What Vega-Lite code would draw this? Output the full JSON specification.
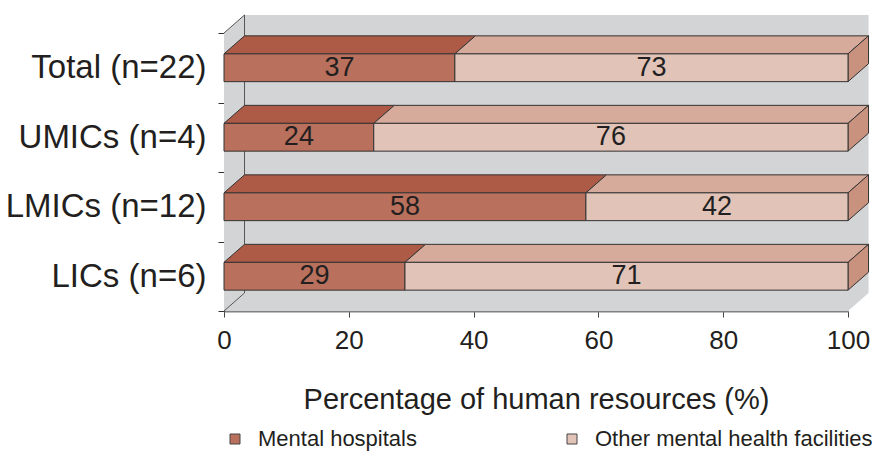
{
  "$schema": "https://vega.github.io/schema/vega-lite/v6.json",
  "width": 624,
  "height": 278,
  "autosize": "none",
  "padding": {"left": 224, "top": 33, "right": 24, "bottom": 142},
  "config": {
    "font": "Liberation Sans",
    "view": {"stroke": null},
    "axisX": {
      "titleFontSize": 29, "titleFontWeight": "normal", "titleColor": "#231f20", "titlePadding": 32,
      "labelFontSize": 26, "labelColor": "#231f20", "labelPadding": 10,
      "tickSize": 6, "tickColor": "#444444", "domainColor": "#808080", "domainWidth": 2,
      "grid": false, "labelFlush": false
    }
  },
  "data": {
    "values": [
      {"group": "Total (n=22)", "facility": "Mental hospitals", "pct": 37, "label": "37"},
      {"group": "Total (n=22)", "facility": "Other mental health facilities", "pct": 63, "label": "73"},
      {"group": "UMICs (n=4)", "facility": "Mental hospitals", "pct": 24, "label": "24"},
      {"group": "UMICs (n=4)", "facility": "Other mental health facilities", "pct": 76, "label": "76"},
      {"group": "LMICs (n=12)", "facility": "Mental hospitals", "pct": 58, "label": "58"},
      {"group": "LMICs (n=12)", "facility": "Other mental health facilities", "pct": 42, "label": "42"},
      {"group": "LICs (n=6)", "facility": "Mental hospitals", "pct": 29, "label": "29"},
      {"group": "LICs (n=6)", "facility": "Other mental health facilities", "pct": 71, "label": "71"}
    ]
  },
  "transform": [
    {"stack": "pct", "groupby": ["group"], "sort": [{"field": "facility", "order": "ascending"}], "as": ["x0", "x1"]},
    {"calculate": "indexof(['Total (n=22)','UMICs (n=4)','LMICs (n=12)','LICs (n=6)'], datum.group)", "as": "idx"},
    {"calculate": "(datum.x0 + datum.x1) / 2", "as": "mid"},
    {"calculate": "[0, 1]", "as": "c"}
  ],
  "layer": [
    {
      "data": {"values": [{"corner": 0}]},
      "transform": [],
      "mark": {"type": "rect", "fill": "#d3d4d6"},
      "encoding": {
        "x": {"datum": 3.29, "type": "quantitative", "scale": {"domain": [0, 100], "nice": false, "zero": false}, "axis": {"title": "Percentage of human resources (%)", "values": [0, 20, 40, 60, 80, 100]}},
        "x2": {"datum": 103.29},
        "y": {"datum": -0.259, "type": "quantitative", "scale": {"domain": [0, 4], "nice": false, "zero": false, "reverse": true}, "axis": null},
        "y2": {"datum": 3.741}
      }
    },
    {
      "data": {"values": [{"corner": 0}, {"corner": 1}]},
      "transform": [
        {"calculate": "datum.corner * 3.29", "as": "wx"},
        {"calculate": "0 - datum.corner * 0.259", "as": "wy0"},
        {"calculate": "4 - datum.corner * 0.259", "as": "wy1"}
      ],
      "mark": {"type": "area", "orient": "vertical", "fill": "#d3d4d6"},
      "encoding": {
        "x": {"field": "wx", "type": "quantitative", "scale": {"domain": [0, 100], "nice": false, "zero": false}, "axis": {"title": "Percentage of human resources (%)", "values": [0, 20, 40, 60, 80, 100]}},
        "y": {"field": "wy0", "type": "quantitative", "scale": {"domain": [0, 4], "nice": false, "zero": false, "reverse": true}, "axis": null},
        "y2": {"field": "wy1"}
      }
    },
    {
      "data": {"values": [{"corner": 0}, {"corner": 1}]},
      "transform": [
        {"calculate": "datum.corner * 3.29", "as": "fx0"},
        {"calculate": "100 + datum.corner * 3.29", "as": "fx1"},
        {"calculate": "4 - datum.corner * 0.259", "as": "fy"}
      ],
      "mark": {"type": "area", "orient": "horizontal", "fill": "#d3d4d6"},
      "encoding": {
        "y": {"field": "fy", "type": "quantitative", "scale": {"domain": [0, 4], "nice": false, "zero": false, "reverse": true}, "axis": null},
        "x": {"field": "fx0", "type": "quantitative", "scale": {"domain": [0, 100], "nice": false, "zero": false}, "axis": {"title": "Percentage of human resources (%)", "values": [0, 20, 40, 60, 80, 100]}},
        "x2": {"field": "fx1"}
      }
    },
    {
      "data": {"values": [
        {"edge": "back-left", "a": 3.29, "b": 3.29, "p": -0.259, "q": 3.741},
        {"edge": "top-left", "a": 0, "b": 3.29, "p": 0, "q": -0.259},
        {"edge": "bottom-left", "a": 0, "b": 3.29, "p": 4, "q": 3.741}
      ]},
      "transform": [],
      "mark": {"type": "rule", "stroke": "#555555", "strokeWidth": 1},
      "encoding": {
        "x": {"field": "a", "type": "quantitative", "scale": {"domain": [0, 100], "nice": false, "zero": false}, "axis": {"title": "Percentage of human resources (%)", "values": [0, 20, 40, 60, 80, 100]}},
        "x2": {"field": "b"},
        "y": {"field": "p", "type": "quantitative", "scale": {"domain": [0, 4], "nice": false, "zero": false, "reverse": true}, "axis": null},
        "y2": {"field": "q"}
      }
    },
    {
      "transform": [
        {"flatten": ["c"]},
        {"calculate": "datum.idx + 0.3 - datum.c * 0.259", "as": "ty"},
        {"calculate": "datum.x0 + datum.c * 3.29", "as": "tx0"},
        {"calculate": "datum.x1 + datum.c * 3.29", "as": "tx1"},
        {"calculate": "datum.group + '|' + datum.facility", "as": "key"}
      ],
      "mark": {"type": "area", "orient": "horizontal", "stroke": "#333333", "strokeWidth": 1},
      "encoding": {
        "y": {"field": "ty", "type": "quantitative", "scale": {"domain": [0, 4], "nice": false, "zero": false, "reverse": true}, "axis": null},
        "x": {"field": "tx0", "type": "quantitative", "scale": {"domain": [0, 100], "nice": false, "zero": false}, "axis": {"title": "Percentage of human resources (%)", "values": [0, 20, 40, 60, 80, 100]}},
        "x2": {"field": "tx1"},
        "detail": {"field": "key"},
        "fill": {"condition": {"test": "datum.facility === 'Mental hospitals'", "value": "#ad5a46"}, "value": "#d7ab9b"}
      }
    },
    {
      "transform": [
        {"filter": "datum.x1 >= 99.99"},
        {"flatten": ["c"]},
        {"calculate": "100 + datum.c * 3.29", "as": "sx"},
        {"calculate": "datum.idx + 0.3 - datum.c * 0.259", "as": "sy0"},
        {"calculate": "datum.idx + 0.7 - datum.c * 0.259", "as": "sy1"}
      ],
      "mark": {"type": "area", "orient": "vertical", "fill": "#c9927f", "stroke": "#333333", "strokeWidth": 1},
      "encoding": {
        "x": {"field": "sx", "type": "quantitative", "scale": {"domain": [0, 100], "nice": false, "zero": false}, "axis": {"title": "Percentage of human resources (%)", "values": [0, 20, 40, 60, 80, 100]}},
        "y": {"field": "sy0", "type": "quantitative", "scale": {"domain": [0, 4], "nice": false, "zero": false, "reverse": true}, "axis": null},
        "y2": {"field": "sy1"},
        "detail": {"field": "group"}
      }
    },
    {
      "transform": [
        {"calculate": "datum.idx + 0.3", "as": "ry0"},
        {"calculate": "datum.idx + 0.7", "as": "ry1"}
      ],
      "mark": {"type": "rect", "stroke": "#333333", "strokeWidth": 1},
      "encoding": {
        "x": {"field": "x0", "type": "quantitative", "scale": {"domain": [0, 100], "nice": false, "zero": false}, "axis": {"title": "Percentage of human resources (%)", "values": [0, 20, 40, 60, 80, 100]}},
        "x2": {"field": "x1"},
        "y": {"field": "ry0", "type": "quantitative", "scale": {"domain": [0, 4], "nice": false, "zero": false, "reverse": true}, "axis": null},
        "y2": {"field": "ry1"},
        "fill": {
          "field": "facility", "type": "nominal",
          "scale": {"domain": ["Mental hospitals", "Other mental health facilities"], "range": ["#b9705c", "#e1c3b8"]},
          "legend": {
            "orient": "bottom", "direction": "horizontal", "title": null, "padding": 0,
            "symbolType": "square", "symbolSize": 100, "symbolStrokeColor": "#444444", "symbolStrokeWidth": 1,
            "labelFontSize": 22, "labelColor": "#231f20", "labelOffset": 12, "labelLimit": 400, "columnPadding": 144, "offset": 14
          }
        }
      }
    },
    {
      "mark": {"type": "text", "fontSize": 27, "color": "#231f20"},
      "encoding": {
        "x": {"field": "mid", "type": "quantitative", "scale": {"domain": [0, 100], "nice": false, "zero": false}, "axis": {"title": "Percentage of human resources (%)", "values": [0, 20, 40, 60, 80, 100]}},
        "y": {
          "field": "group", "type": "nominal",
          "scale": {"domain": ["Total (n=22)", "UMICs (n=4)", "LMICs (n=12)", "LICs (n=6)"], "paddingInner": 0, "paddingOuter": 0},
          "axis": {
            "title": null, "tickBand": "extent", "tickSize": 6, "tickColor": "#333333",
            "domainColor": "#333333", "labelFontSize": 33, "labelColor": "#231f20", "labelPadding": 12, "labelLimit": 300
          }
        },
        "text": {"field": "label"}
      }
    }
  ],
  "resolve": {"scale": {"y": "independent"}, "axis": {"y": "independent"}}
}
